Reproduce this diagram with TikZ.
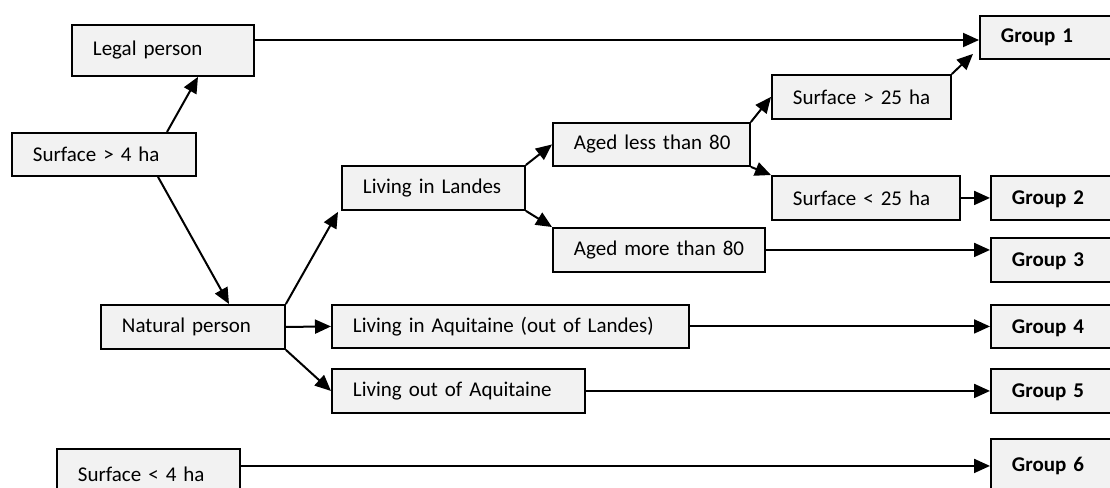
\documentclass[tikz,border=0pt]{standalone}
\usepackage{fontspec}
\setmainfont{Carlito}
\usetikzlibrary{arrows.meta,calc}
\definecolor{boxgray}{HTML}{F2F2F2}
\tikzset{
  box/.style={draw, fill=boxgray, line width=1.4pt, anchor=north west,
    inner xsep=15.75pt, inner ysep=0pt, align=left,
    font=\fontsize{15.75}{18}\selectfont},
  gbox/.style={box, font=\fontsize{15.75}{18}\selectfont\bfseries},
  arr/.style={line width=1.5pt, -{Triangle[length=12pt,width=10.5pt]}}
}
\begin{document}
\begin{tikzpicture}[x=0.75pt,y=-0.75pt]
\useasboundingbox (0,0) rectangle (1110,487);
% boxes: text width = (w-42)*0.75pt, min height = h*0.75pt
\node[box, text width=140*0.75pt, minimum height=51*0.75pt] (legal) at (71,24) {\mbox{Legal person}};
\node[box, text width=142*0.75pt, minimum height=43*0.75pt] (sg4) at (11,132) {\mbox{Surface > 4 ha}};
\node[box, text width=142*0.75pt, minimum height=44*0.75pt] (natural) at (100,304) {\mbox{Natural person}};
\node[box, text width=141*0.75pt, minimum height=44*0.75pt] (landes) at (341,165) {\mbox{Living in Landes}};
\node[box, text width=155*0.75pt, minimum height=43*0.75pt] (less80) at (552,122) {\mbox{Aged less than 80}};
\node[box, text width=170*0.75pt, minimum height=44*0.75pt] (more80) at (552,227) {\mbox{Aged more than 80}};
\node[box, text width=137*0.75pt, minimum height=44*0.75pt] (sg25) at (771,74) {\mbox{Surface > 25 ha}};
\node[box, text width=146*0.75pt, minimum height=44*0.75pt] (sl25) at (771,175) {\mbox{Surface < 25 ha}};
\node[box, text width=315*0.75pt, minimum height=43*0.75pt] (aquit) at (331,304) {\mbox{Living in Aquitaine (out of Landes)}};
\node[box, text width=211*0.75pt, minimum height=44*0.75pt] (outaq) at (331,368) {\mbox{Living out of Aquitaine}};
\node[box, text width=141*0.75pt, minimum height=50*0.75pt] (sl4) at (56,448) {\mbox{Surface < 4 ha}};
% groups
\node[gbox, text width=108*0.75pt, minimum height=43*0.75pt] (g1) at (979,15) {Group 1};
\node[gbox, text width=108*0.75pt, minimum height=44*0.75pt, text depth=0pt] (g2) at (990,175) {Group 2};
\node[gbox, text width=108*0.75pt, minimum height=44*0.75pt, text depth=0pt] (g3) at (990,237) {Group 3};
\node[gbox, text width=108*0.75pt, minimum height=43*0.75pt, text depth=0pt] (g4) at (990,304) {Group 4};
\node[gbox, text width=108*0.75pt, minimum height=44*0.75pt, text depth=0pt] (g5) at (990,368) {Group 5};
\node[gbox, text width=108*0.75pt, minimum height=54*0.75pt] (g6) at (990,438) {Group 6};
% connectors
\draw[arr] (legal.east |- 0,40) -- (g1.west |- 0,40);
\draw[arr] (sg4.north -| 167,0) -- (legal.south -| 198,0);
\draw[arr] (sg4.south -| 158,0) -- (natural.north -| 229,0);
\draw[arr] (natural.north east) -- ($(landes.south west)+(-3,1)$);
\draw[arr] (natural.east) -- (aquit.west);
\draw[arr] (natural.south east) -- (outaq.west);
\draw[arr] (landes.north east) -- (less80.west);
\draw[arr] (landes.south east) -- (more80.north west);
\draw[arr] (less80.north east) -- (sg25.west);
\draw[arr] (less80.south east) -- (sl25.north west);
\draw[arr] (sg25.north east) -- ($(g1.south west)+(-6,-6)$);
\draw[arr] (sl25.east) -- (g2.west);
\draw[arr] (more80.east) -- (g3.west |- more80.east);
\draw[arr] (aquit.east) -- (g4.west);
\draw[arr] (outaq.east) -- (g5.west);
\draw[arr] (sl4.east |- g6.west) -- (g6.west);
\end{tikzpicture}
\end{document}
